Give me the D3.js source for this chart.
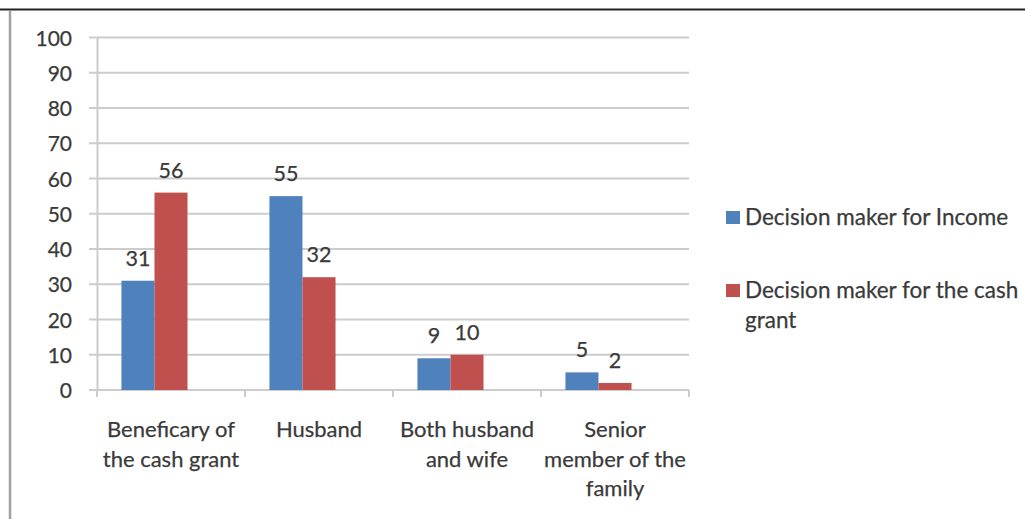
<!DOCTYPE html>
<html><head><meta charset="utf-8">
<script src="https://cdn.jsdelivr.net/npm/d3@7"></script>
<style>body{margin:0;background:#fff}svg{display:block}text{font-family:Lato,"Open Sans",sans-serif;fill:#3a3a3a;stroke:#3a3a3a;stroke-width:0.25px}</style>
</head><body>
<svg id="c" width="1025" height="519"></svg>
<script>
(function(){
const categories = [["Beneficary of","the cash grant"],["Husband"],["Both husband","and wife"],["Senior","member of the","family"]];
const seriesNames = ["Decision maker for Income", "Decision maker for the cash grant"];
const incomeValues = [31, 55, 9, 5];
const grantValues = [56, 32, 10, 2];
const yTicks = [0,10,20,30,40,50,60,70,80,90,100];
const colors = ["#4F81BD", "#C0504D"];

const FS_TICK = "21px", FS_CAT = "22px", FS_VAL = "21.5px", FS_LEG = "22.5px";
const svg = d3.select("#c");
// frame
svg.append("line").attr("x1",0).attr("x2",1025).attr("y1",9.5).attr("y2",9.5).attr("stroke","#222").attr("stroke-width",2);
svg.append("line").attr("x1",10).attr("x2",10).attr("y1",11).attr("y2",519).attr("stroke","#a0a0a0").attr("stroke-width",2.5);

const left=97, right=689, plotTop=37.5, bottom=390;
const idx = categories.map((d,i)=>i);
const x = d3.scaleBand().domain(idx).range([left,right]).paddingInner(0).paddingOuter(0);
const y = d3.scaleLinear().domain([0,100]).range([bottom,plotTop]);
// three slots per category (third slot empty, as in the original chart)
const xs = d3.scaleBand().domain([0,1,2]).range([0, x.bandwidth()]).paddingInner(0).paddingOuter(0.74);

// gridlines
svg.append("g").selectAll("line").data(yTicks).join("line")
  .attr("x1",left-8).attr("x2",right).attr("y1",d=>y(d)).attr("y2",d=>y(d))
  .attr("stroke","#cccccc").attr("stroke-width",2);

// y axis
const yAxis = d3.axisLeft(y).tickValues(yTicks).tickSize(0).tickPadding(0);
const gy = svg.append("g").attr("transform",`translate(${left},0)`).call(yAxis);
gy.select(".domain").attr("stroke","#cccccc").attr("stroke-width",2);
gy.selectAll("text").attr("x",-25).attr("dy","0.36em").style("font-size",FS_TICK).style("fill","#3a3a3a").style("font-family","Lato");

// x axis
const gx = svg.append("g").attr("transform",`translate(0,${bottom})`);
gx.append("line").attr("x1",left).attr("x2",right).attr("stroke","#cccccc").attr("stroke-width",2);
gx.selectAll(".tk").data(d3.range(categories.length+1)).join("line").attr("class","tk")
  .attr("x1",d=>left+d*x.bandwidth()).attr("x2",d=>left+d*x.bandwidth()).attr("y1",0).attr("y2",7)
  .attr("stroke","#cccccc").attr("stroke-width",2);

// category labels
const cl = svg.append("g").selectAll("text").data(categories).join("text")
  .attr("x",(d,i)=>x(i)+x.bandwidth()/2).attr("y",437).attr("text-anchor","middle").style("font-size",FS_CAT);
cl.selectAll("tspan").data(d=>d).join("tspan").attr("x",function(){return this.parentNode.getAttribute("x");}).attr("dy",(d,i)=>i?29.5:0).text(d=>d);

// bars
const series = [incomeValues, grantValues];
series.forEach((vals,s)=>{
  const g = svg.append("g");
  g.selectAll("rect").data(vals).join("rect")
    .attr("x",(d,i)=>x(i)+xs(s)).attr("width",xs.bandwidth())
    .attr("y",d=>y(d)).attr("height",d=>bottom-y(d)).attr("fill",colors[s]);
  g.selectAll("text").data(vals).join("text")
    .attr("x",(d,i)=>x(i)+xs(s)+xs.bandwidth()/2).attr("y",d=>y(d)-15)
    .attr("text-anchor","middle").style("font-size",FS_VAL).text(d=>d);
});

// legend
const lg = svg.append("g");
const legendY = [218, 291];
const legendLines = [["Decision maker for Income"],["Decision maker for the cash","grant"]];
seriesNames.forEach((n,i)=>{
  lg.append("rect").attr("x",726).attr("y",legendY[i]-7).attr("width",14).attr("height",13).attr("fill",colors[i]);
  const t = lg.append("text").attr("x",745).attr("y",legendY[i]+7).style("font-size",FS_LEG);
  t.selectAll("tspan").data(legendLines[i]).join("tspan").attr("x",745).attr("dy",(d,k)=>k?30:0).text(d=>d);
});
})();
</script>
</body></html>
